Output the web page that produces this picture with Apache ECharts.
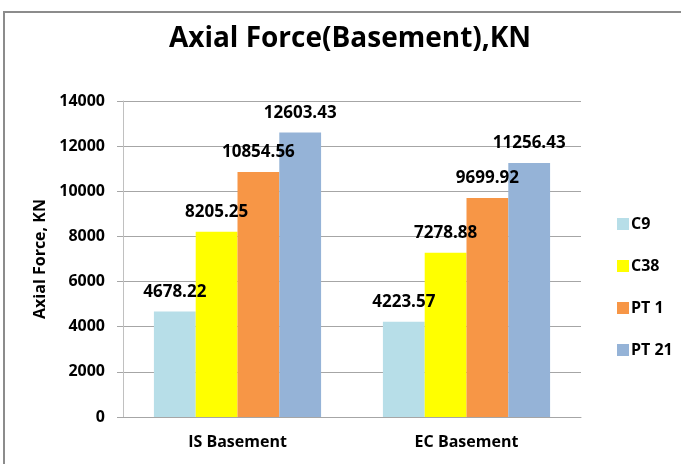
<!DOCTYPE html>
<html>
<head>
<meta charset="utf-8">
<script src="https://cdn.jsdelivr.net/npm/echarts@6/dist/echarts.min.js"></script>
<style>
html, body { margin: 0; padding: 0; background: #fff; }
#axialChart { width: 681px; height: 464px; }
</style>
</head>
<body>
<div id="axialChart"></div>
<script>
// data
const categories = ['IS Basement', 'EC Basement']
const seriesNames = ['C9', 'C38', 'PT 1', 'PT 21']
const c9 = [4678.22, 4223.57]
const c38 = [8205.25, 7278.88]
const pt1 = [10854.56, 9699.92]
const pt21 = [12603.43, 11256.43]
const colors = ['#b7dee8', '#ffff00', '#f79646', '#95b3d7']

const font = '"Open Sans", "DejaVu Sans", sans-serif'
const seriesData = [c9, c38, pt1, pt21]

const chartDom = echarts.init(document.getElementById('axialChart'))

const option = {
  animation: false,
  title: {
    text: 'Axial Force(Basement),KN',
    left: 345,
    textAlign: 'center',
    top: 20,
    textStyle: {
      fontFamily: font,
      fontWeight: 'bold',
      fontSize: 28,
      color: '#000',
    },
  },
  graphic: [
    {
      type: 'rect',
      shape: { x: 4, y: 12, width: 700, height: 480 },
      style: { fill: 'none', stroke: '#8c8c8c', lineWidth: 2 },
      silent: true,
      z: -1,
    },
  ],
  legend: {
    orient: 'vertical',
    left: 612,
    top: 211,
    itemWidth: 12,
    itemHeight: 12,
    itemGap: 26,
    icon: 'rect',
    textStyle: {
      fontFamily: font,
      fontWeight: 'bold',
      fontSize: 16,
      color: '#000',
      padding: [0, 0, 0, -3],
    },
    data: seriesNames,
  },
  grid: {
    left: 123,
    right: 100,
    top: 101,
    bottom: 47,
  },
  xAxis: {
    type: 'category',
    data: categories,
    axisLine: { show: true, lineStyle: { color: '#a6a6a6', width: 1 } },
    axisTick: { show: false },
    axisLabel: {
      margin: 17,
      fontFamily: font,
      fontWeight: 'bold',
      fontSize: 16,
      color: '#000',
    },
  },
  yAxis: {
    type: 'value',
    min: 0,
    max: 14000,
    interval: 2000,
    name: 'Axial Force, KN',
    nameLocation: 'middle',
    nameRotate: 90,
    nameGap: 66,
    nameTextStyle: {
      fontFamily: font,
      fontWeight: 'bold',
      fontSize: 16,
      color: '#000',
    },
    axisLine: { show: true, lineStyle: { color: '#c0c0c0', width: 1 } },
    axisTick: { show: true, length: 6, lineStyle: { color: '#a6a6a6' } },
    axisLabel: {
      margin: 18,
      fontFamily: font,
      fontWeight: 'bold',
      fontSize: 16,
      color: '#000',
      formatter: (v) => String(v),
    },
    splitLine: { show: true, lineStyle: { color: '#a6a6a6', width: 1 } },
  },
  series: seriesNames.map((name, i) => ({
    name: name,
    type: 'bar',
    data: seriesData[i],
    barGap: '0%',
    barCategoryGap: '27%',
    itemStyle: { color: colors[i] },
    label: {
      show: true,
      position: 'top',
      distance: 11,
      fontFamily: font,
      fontWeight: 'bold',
      fontSize: 17,
      color: '#000',
    },
  })),
}

chartDom.setOption(option)
</script>
</body>
</html>
